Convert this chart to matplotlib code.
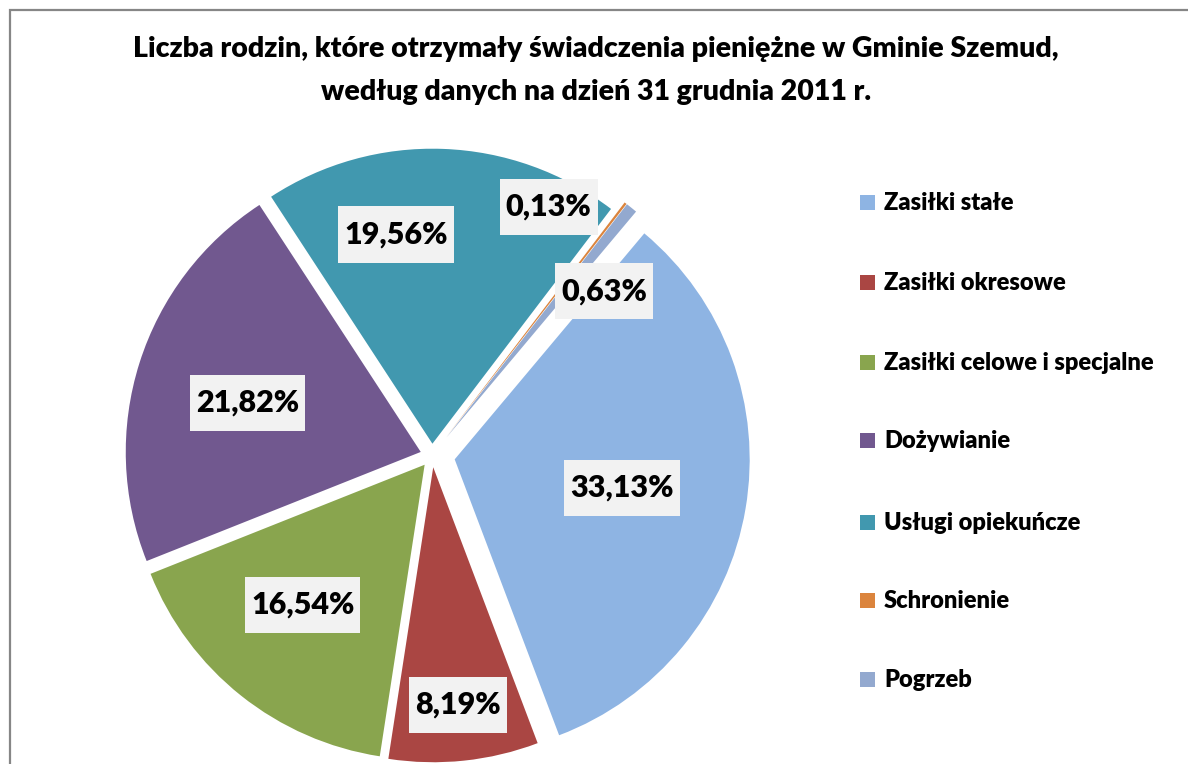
import numpy as np
import matplotlib
matplotlib.use("Agg")
import matplotlib.pyplot as plt
from matplotlib.patches import Rectangle
from matplotlib.path import Path

# data
categories = ['Zasiłki stałe', 'Zasiłki okresowe', 'Zasiłki celowe i specjalne',
              'Dożywianie', 'Usługi opiekuńcze', 'Schronienie', 'Pogrzeb']
shares = [33.13, 8.19, 16.54, 21.82, 19.56, 0.13, 0.63]

colors = ['#8EB4E3', '#AA4643', '#89A54E', '#71588F', '#4198AF', '#DB843D', '#93A9CF']
explode = [0.078, 0.04, 0.04, 0.04, 0.04, 0.078, 0.078]

# label placement (distance from wedge centre, clockwise shift in deg)
label_r = [0.575, 0.81, 0.63, 0.61, 0.72, 0.855, 0.73]
label_shift = [0, 0, 2.5, -1.7, -12, -13.5, 8.3]

title_lines = ['Liczba rodzin, które otrzymały świadczenia pieniężne w Gminie Szemud,',
               'według danych na dzień 31 grudnia 2011 r.']

plt.rcParams['font.family'] = ['Lato', 'DejaVu Sans']
WEIGHT = 'heavy'

W, H = 1188, 764
def fx(px):
    return px / W
def fy(py):
    return 1 - py / H

fig = plt.figure(figsize=(W / 100, H / 100), dpi=100)
fig.patch.set_facecolor('white')

# outer chart frame (right and bottom edges fall outside the picture)
fig.add_artist(Rectangle((fx(9.5), -0.2), 1.3, fy(10.5) + 0.2, transform=fig.transFigure,
                         fill=False, ec='#868686', lw=1.6))

for y, line in zip([56.5, 100], title_lines):
    fig.text(fx(596), fy(y), line, ha='center', va='baseline',
             fontsize=20.5, fontweight=WEIGHT, color='black')

# pie axes: centre (431, 455.5) px, radius 296 px
cx, cy, R, half = 432, 455.5, 295, 420
ax = fig.add_axes([fx(cx - half), fy(cy + half), 2 * half / W, 2 * half / H])
wedges, _ = ax.pie(shares, colors=colors, explode=explode, startangle=50,
                   counterclock=False, radius=1, wedgeprops=dict(linewidth=0))
lim = half / R
ax.set_xlim(-lim, lim)
ax.set_ylim(-lim, lim)
ax.axis('off')


def label_box(x0, y0, width, height, mutation_size):
    px = 0.2 * mutation_size
    py = 0.46 * mutation_size
    verts = [(x0 - px, y0 - py), (x0 + width + px, y0 - py),
             (x0 + width + px, y0 + height + py), (x0 - px, y0 + height + py),
             (x0 - px, y0 - py)]
    return Path(verts, closed=True)


for w, r, s, v in zip(wedges, label_r, label_shift, shares):
    ang = np.deg2rad((w.theta1 + w.theta2) / 2 - s)
    x = w.center[0] + r * np.cos(ang)
    y = w.center[1] + r * np.sin(ang)
    txt = f"{v:.2f}%".replace('.', ',')
    ax.text(x, y, txt, ha='center', va='center', fontsize=22, fontweight=WEIGHT,
            color='black', bbox=dict(boxstyle=label_box, fc='#F2F2F2', ec='none'))

# legend
rows = [202, 282, 362, 440.5, 522, 600, 679]
for yy, lab, col in zip(rows, categories, colors):
    fig.add_artist(Rectangle((fx(860), fy(yy + 7.5)), 15 / W, 15 / H,
                             transform=fig.transFigure, fc=col, ec='none'))
    fig.text(fx(884), fy(yy + 8), lab, ha='left', va='baseline',
             fontsize=17, fontweight=WEIGHT, color='black')

fig.savefig('out.png', dpi=100, facecolor='white')
